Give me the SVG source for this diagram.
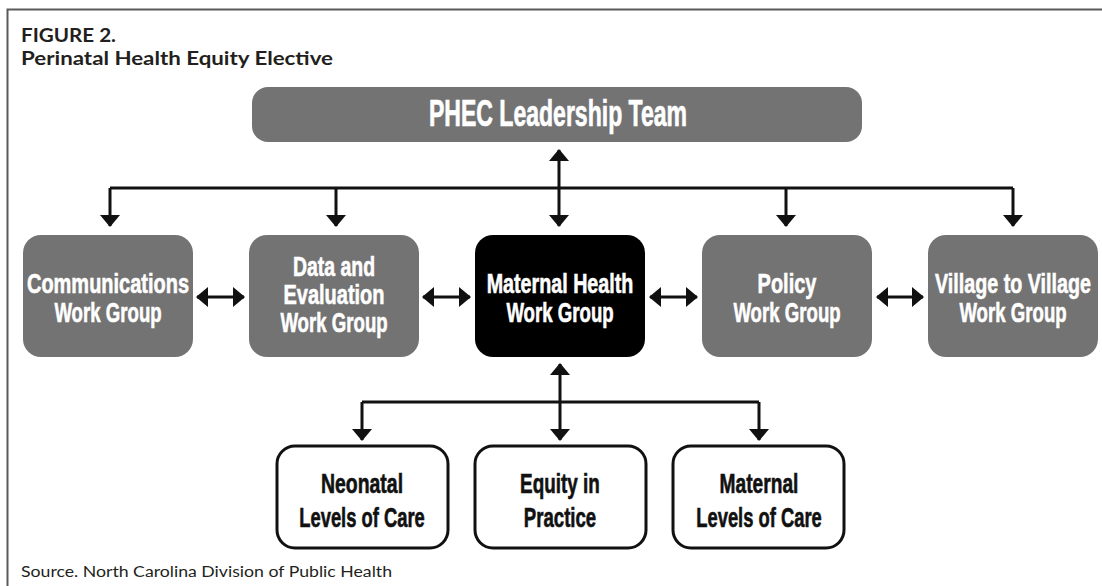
<svg xmlns="http://www.w3.org/2000/svg" width="1102" height="586" viewBox="0 0 1102 586">
  <defs>
    <style>
      .frame { fill: none; stroke: #5a5a5a; stroke-width: 2; }
      .title { font-family: Lato, "Open Sans", "Liberation Sans", sans-serif; font-weight: 700; font-size: 19px; fill: #231f20; }
      .source { font-family: Lato, "Open Sans", "Liberation Sans", sans-serif; font-weight: 400; font-size: 15.5px; fill: #231f20; }
      .grey { fill: #737373; }
      .dark { fill: #000000; }
      .light { fill: #ffffff; stroke: #111111; stroke-width: 3; }
      .lbl { font-family: "Liberation Sans", Arial, sans-serif; font-weight: 700; font-size: 27px; fill: #ffffff; stroke: #ffffff; stroke-width: 0.6; text-anchor: middle; }
      .lbl-dark { font-family: "Liberation Sans", Arial, sans-serif; font-weight: 700; font-size: 27px; fill: #111111; stroke: #111111; stroke-width: 0.6; text-anchor: middle; }
      .head-lbl { font-family: "Liberation Sans", Arial, sans-serif; font-weight: 700; font-size: 36px; fill: #ffffff; stroke: #ffffff; stroke-width: 0.7; text-anchor: middle; }
      .link { fill: none; stroke: #111111; stroke-width: 3; }
    </style>
    <marker id="tip" viewBox="0 0 12 20" markerUnits="userSpaceOnUse" markerWidth="12" markerHeight="20" refX="11" refY="10" orient="auto-start-reverse">
      <path d="M0,0 L12,10 L0,20 Z" fill="#111111"/>
    </marker>
  </defs>

  <!-- page frame: top and left rules -->
  <path class="frame" d="M7.5,586 L7.5,9.5 L1102,9.5"/>

  <!-- heading -->
  <text class="title" x="21" y="42" textLength="95" lengthAdjust="spacingAndGlyphs">FIGURE 2.</text>
  <text class="title" x="21" y="65" textLength="312" lengthAdjust="spacingAndGlyphs">Perinatal Health Equity Elective</text>

  <!-- connectors -->
  <g id="connectors">
    <!-- leadership bus -->
    <path class="link" d="M110,188 L1013,188"/>
    <path class="link" d="M559,150 L559,226" marker-start="url(#tip)" marker-end="url(#tip)"/>
    <path class="link" d="M110,188 L110,226" marker-end="url(#tip)"/>
    <path class="link" d="M336,188 L336,226" marker-end="url(#tip)"/>
    <path class="link" d="M786,188 L786,226" marker-end="url(#tip)"/>
    <path class="link" d="M1013,188 L1013,226" marker-end="url(#tip)"/>
    <!-- between work groups -->
    <path class="link" d="M197,297 L244,297" marker-start="url(#tip)" marker-end="url(#tip)"/>
    <path class="link" d="M423,297 L470,297" marker-start="url(#tip)" marker-end="url(#tip)"/>
    <path class="link" d="M650,297 L697,297" marker-start="url(#tip)" marker-end="url(#tip)"/>
    <path class="link" d="M877,297 L923,297" marker-start="url(#tip)" marker-end="url(#tip)"/>
    <!-- maternal health sub-groups -->
    <path class="link" d="M362,402 L759,402"/>
    <path class="link" d="M560,364 L560,440" marker-start="url(#tip)" marker-end="url(#tip)"/>
    <path class="link" d="M362,402 L362,440" marker-end="url(#tip)"/>
    <path class="link" d="M759,402 L759,440" marker-end="url(#tip)"/>
  </g>

  <g id="leadership">
    <rect class="grey" x="252" y="87" width="610" height="55" rx="16"/>
    <text class="head-lbl" transform="translate(558,126) scale(0.64,1)" x="0" y="0">PHEC Leadership Team</text>
  </g>

  <g id="communications">
    <rect class="grey" x="23" y="235" width="170" height="122" rx="18"/>
    <text class="lbl" transform="translate(108,293) scale(0.74,1)" x="0" y="0">Communications</text>
    <text class="lbl" transform="translate(108,322) scale(0.69,1)" x="0" y="0">Work Group</text>
  </g>

  <g id="data-evaluation">
    <rect class="grey" x="249" y="235" width="170" height="122" rx="18"/>
    <text class="lbl" transform="translate(334,276) scale(0.72,1)" x="0" y="0">Data and</text>
    <text class="lbl" transform="translate(334,304) scale(0.74,1)" x="0" y="0">Evaluation</text>
    <text class="lbl" transform="translate(334,332) scale(0.69,1)" x="0" y="0">Work Group</text>
  </g>

  <g id="maternal-health">
    <rect class="dark" x="475" y="235" width="170" height="122" rx="18"/>
    <text class="lbl" transform="translate(560,293) scale(0.73,1)" x="0" y="0">Maternal Health</text>
    <text class="lbl" transform="translate(560,322) scale(0.69,1)" x="0" y="0">Work Group</text>
  </g>

  <g id="policy">
    <rect class="grey" x="702" y="235" width="170" height="122" rx="18"/>
    <text class="lbl" transform="translate(787,293) scale(0.74,1)" x="0" y="0">Policy</text>
    <text class="lbl" transform="translate(787,322) scale(0.69,1)" x="0" y="0">Work Group</text>
  </g>

  <g id="village">
    <rect class="grey" x="928" y="235" width="170" height="122" rx="18"/>
    <text class="lbl" transform="translate(1013,293) scale(0.73,1)" x="0" y="0">Village to Village</text>
    <text class="lbl" transform="translate(1013,322) scale(0.69,1)" x="0" y="0">Work Group</text>
  </g>

  <g id="neonatal">
    <rect class="light" x="277" y="446" width="171" height="102" rx="18"/>
    <text class="lbl-dark" transform="translate(362,493) scale(0.72,1)" x="0" y="0">Neonatal</text>
    <text class="lbl-dark" transform="translate(362,527) scale(0.68,1)" x="0" y="0">Levels of Care</text>
  </g>

  <g id="equity">
    <rect class="light" x="475" y="446" width="171" height="102" rx="18"/>
    <text class="lbl-dark" transform="translate(560,493) scale(0.70,1)" x="0" y="0">Equity in</text>
    <text class="lbl-dark" transform="translate(560,527) scale(0.69,1)" x="0" y="0">Practice</text>
  </g>

  <g id="maternal-levels">
    <rect class="light" x="673" y="446" width="171" height="102" rx="18"/>
    <text class="lbl-dark" transform="translate(759,493) scale(0.71,1)" x="0" y="0">Maternal</text>
    <text class="lbl-dark" transform="translate(759,527) scale(0.68,1)" x="0" y="0">Levels of Care</text>
  </g>

  <text class="source" x="21" y="577" textLength="371" lengthAdjust="spacingAndGlyphs">Source. North Carolina Division of Public Health</text>
</svg>
